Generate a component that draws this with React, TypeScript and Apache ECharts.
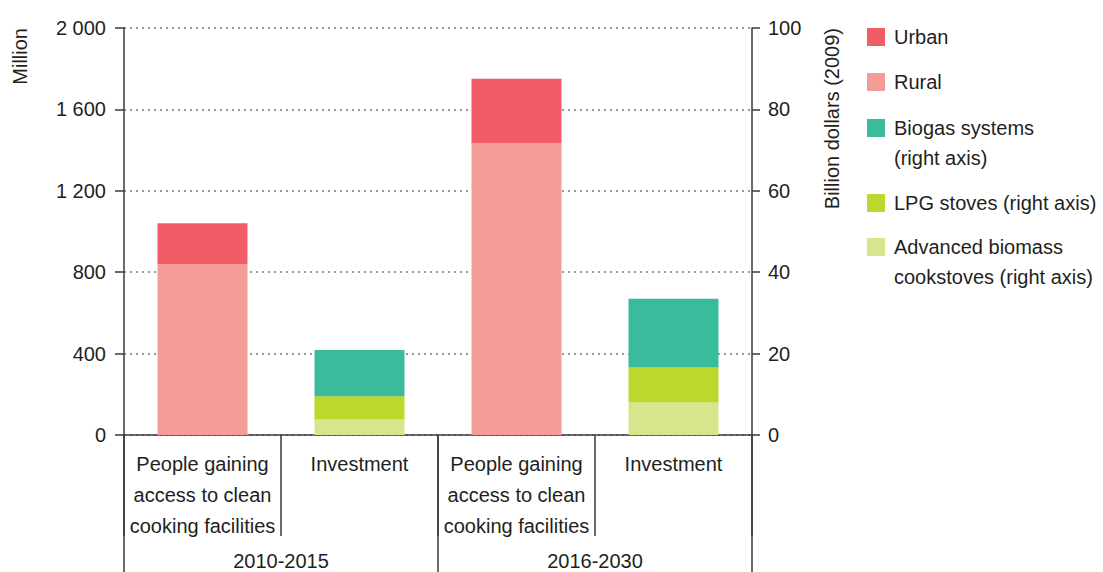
import React, { useEffect, useRef } from "react";
import * as echarts from "echarts";

const categories = [
  "People gaining\naccess to clean\ncooking facilities",
  "Investment",
  "People gaining\naccess to clean\ncooking facilities",
  "Investment",
];
const periods = ["2010-2015", "2016-2030"];

// Million people (left axis)
const rural = [839, null, 1435, null];
const urban = [201, null, 315, null];
// Billion dollars (2009) (right axis)
const advancedBiomass = [null, 3.8, null, 8.0];
const lpgStoves = [null, 5.7, null, 8.6];
const biogas = [null, 11.4, null, 16.9];

const leftTicks = { min: 0, max: 2000, interval: 400 };
const rightTicks = { min: 0, max: 100, interval: 20 };

const FONT = "'Liberation Sans', Arial, sans-serif";
const TXT = "#231f20";
const AXIS = "#3a3a3a";

const fmtThousands = (v: number) =>
  v >= 1000 ? `${Math.floor(v / 1000)} ${String(v % 1000).padStart(3, "0")}` : String(v);

export default function App() {
  const ref = useRef<HTMLDivElement>(null);
  useEffect(() => {
    if (!ref.current) return;
    const chart = echarts.init(ref.current, undefined, { renderer: "svg" });
    const legendBase = (name: string, top: number, label: string) => ({
      data: [name],
      orient: "vertical",
      left: 867,
      top,
      padding: 0,
      itemWidth: 18,
      itemHeight: 18,
      icon: "rect",
      selectedMode: false,
      formatter: () => label,
      textStyle: {
        fontFamily: FONT,
        fontSize: 20,
        lineHeight: 30,
        color: TXT,
        padding: [0, 0, 0, 4],
      },
    });
    const option: any = {
      animation: false,
      textStyle: { fontFamily: FONT },
      grid: [
        { left: 124, right: 351, top: 28, bottom: 137 },
        { left: 124, right: 351, top: 28, bottom: 137 },
      ],
      legend: [
        legendBase("Urban", 22, "Urban"),
        legendBase("Rural", 67, "Rural"),
        legendBase("Biogas systems (right axis)", 83, " \nBiogas systems\n(right axis)"),
        legendBase("LPG stoves (right axis)", 188, "LPG stoves (right axis)"),
        legendBase(
          "Advanced biomass cookstoves (right axis)",
          202,
          " \nAdvanced biomass\ncookstoves (right axis)"
        ),
      ],
      xAxis: [
        {
          type: "category",
          gridIndex: 0,
          data: categories,
          boundaryGap: true,
          axisLine: { show: true, lineStyle: { color: AXIS, width: 1.5 } },
          axisTick: { show: true, interval: 0, length: 101, lineStyle: { color: AXIS, width: 1.5 } },
          axisLabel: {
            interval: 0,
            fontFamily: FONT,
            fontSize: 20,
            lineHeight: 31,
            color: TXT,
            margin: 13,
          },
          splitLine: { show: false },
        },
        {
          type: "category",
          gridIndex: 1,
          data: periods,
          boundaryGap: true,
          position: "bottom",
          axisLine: { show: false },
          axisTick: { show: true, interval: 0, length: 140, lineStyle: { color: AXIS, width: 1.5 } },
          axisLabel: {
            interval: 0,
            fontFamily: FONT,
            fontSize: 20,
            color: TXT,
            margin: 116,
          },
          splitLine: { show: false },
        },
      ],
      yAxis: [
        {
          type: "value",
          gridIndex: 0,
          position: "left",
          ...leftTicks,
          axisLine: { show: true, lineStyle: { color: AXIS, width: 1.5 } },
          axisTick: { show: true, length: 9, lineStyle: { color: AXIS, width: 1.5 } },
          axisLabel: {
            fontFamily: FONT,
            fontSize: 20,
            color: TXT,
            margin: 18,
            formatter: (v: number) => fmtThousands(v),
          },
          splitLine: { show: true, lineStyle: { color: "#999999", type: [2, 4], width: 2 } },
        },
        {
          type: "value",
          gridIndex: 0,
          position: "right",
          ...rightTicks,
          axisLine: { show: true, lineStyle: { color: AXIS, width: 1.5 } },
          axisTick: { show: true, length: 8, lineStyle: { color: AXIS, width: 1.5 } },
          axisLabel: { fontFamily: FONT, fontSize: 20, color: TXT, margin: 16 },
          splitLine: { show: false },
        },
        {
          type: "value",
          gridIndex: 1,
          show: false,
          min: 0,
          max: 1,
        },
      ],
      graphic: [
        {
          type: "text",
          x: 20,
          y: 28,
          rotation: Math.PI / 2,
          style: {
            text: "Million",
            fontFamily: FONT,
            fontSize: 20,
            fill: TXT,
            align: "right",
            verticalAlign: "middle",
          },
        },
        {
          type: "text",
          x: 832,
          y: 28,
          rotation: Math.PI / 2,
          style: {
            text: "Billion dollars (2009)",
            fontFamily: FONT,
            fontSize: 20,
            fill: TXT,
            align: "right",
            verticalAlign: "middle",
          },
        },
      ],
      series: [
        {
          name: "Rural",
          type: "bar",
          xAxisIndex: 0,
          yAxisIndex: 0,
          stack: "people",
          barWidth: 90,
          barGap: "-100%",
          data: rural,
          itemStyle: { color: "#F49C97" },
        },
        {
          name: "Urban",
          type: "bar",
          xAxisIndex: 0,
          yAxisIndex: 0,
          stack: "people",
          barWidth: 90,
          barGap: "-100%",
          data: urban,
          itemStyle: { color: "#F25C67" },
        },
        {
          name: "Advanced biomass cookstoves (right axis)",
          type: "bar",
          xAxisIndex: 0,
          yAxisIndex: 1,
          stack: "inv",
          barWidth: 90,
          barGap: "-100%",
          data: advancedBiomass,
          itemStyle: { color: "#D8E58C" },
        },
        {
          name: "LPG stoves (right axis)",
          type: "bar",
          xAxisIndex: 0,
          yAxisIndex: 1,
          stack: "inv",
          barWidth: 90,
          barGap: "-100%",
          data: lpgStoves,
          itemStyle: { color: "#BED72F" },
        },
        {
          name: "Biogas systems (right axis)",
          type: "bar",
          xAxisIndex: 0,
          yAxisIndex: 1,
          stack: "inv",
          barWidth: 90,
          barGap: "-100%",
          data: biogas,
          itemStyle: { color: "#3ABB9C" },
        },
      ],
    };
    chart.setOption(option);
    return () => chart.dispose();
  }, []);
  return (
    <div
      ref={ref}
      style={{ position: "fixed", left: 0, top: 0, width: 1103, height: 572, background: "#fff" }}
    />
  );
}
